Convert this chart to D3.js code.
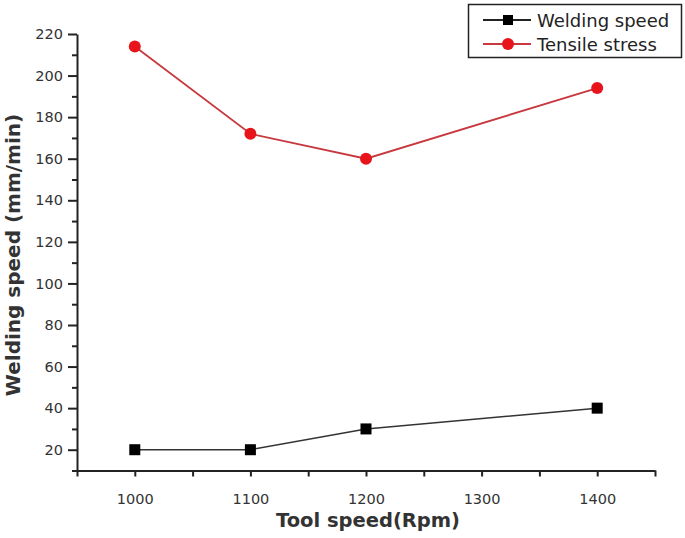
<!DOCTYPE html>
<html><head><meta charset="utf-8">
<script src="https://cdn.jsdelivr.net/npm/d3@7/dist/d3.min.js"></script>
<style>body{margin:0;background:#fff}svg{display:block}</style>
</head><body>
<svg id="c" width="685" height="538"></svg>
<script>
const toolSpeed = [1000, 1100, 1200, 1400];
const weldingSpeed = [20, 20, 30, 40];
const tensileStress = [214, 172, 160, 194];
const yTicks = [20, 40, 60, 80, 100, 120, 140, 160, 180, 200, 220];
const xTicks = [1000, 1100, 1200, 1300, 1400];
const seriesNames = ["Welding speed", "Tensile stress"];

const svg = d3.select("#c");
const x = d3.scaleLinear().domain([950, 1450]).range([77, 655]);
const y = d3.scaleLinear().domain([10, 220]).range([470.5, 34]);
const font = "'DejaVu Sans', Verdana, sans-serif";

const yMinor = d3.range(10, 221, 10).filter(v => v % 20 !== 0);
const xMinor = d3.range(950, 1451, 50).filter(v => v % 100 !== 0);

const gy = svg.append("g").attr("transform", "translate(77,0)");
gy.call(d3.axisLeft(y).tickValues(yTicks).tickSize(9).tickSizeOuter(0).tickPadding(5));
gy.append("g").call(d3.axisLeft(y).tickValues(yMinor).tickSize(5).tickFormat("")).select(".domain").remove();
const gx = svg.append("g").attr("transform", "translate(0,470.5)");
gx.call(d3.axisBottom(x).tickValues(xTicks).tickSize(6).tickSizeOuter(0).tickPadding(17).tickFormat(d3.format("d")));
gx.append("g").call(d3.axisBottom(x).tickValues(xMinor).tickSize(6).tickFormat("")).select(".domain").remove();
svg.selectAll(".domain, .tick line").attr("stroke", "#222").attr("stroke-width", 2);
svg.selectAll(".tick text").attr("font-family", font).attr("font-size", 14.5).attr("fill", "#333");

svg.append("text").attr("x", 368).attr("y", 527).attr("text-anchor", "middle")
  .attr("font-family", font).attr("font-size", 19.5).attr("font-weight", "bold").attr("fill", "#333")
  .text("Tool speed(Rpm)");
svg.append("text").attr("transform", "translate(20,255) rotate(-90)").attr("text-anchor", "middle")
  .attr("font-family", font).attr("font-size", 20).attr("font-weight", "bold").attr("fill", "#333")
  .text("Welding speed (mm/min)");

const line = d3.line().x(d => x(d[0])).y(d => y(d[1]));
const wData = toolSpeed.map((t, i) => [t, weldingSpeed[i]]);
const tData = toolSpeed.map((t, i) => [t, tensileStress[i]]);

svg.append("path").datum(wData).attr("d", line).attr("fill", "none").attr("stroke", "#333").attr("stroke-width", 1.5);
svg.append("path").datum(tData).attr("d", line).attr("fill", "none").attr("stroke", "#c8393f").attr("stroke-width", 1.8);

svg.selectAll(".sq").data(wData).join("rect")
  .attr("x", d => x(d[0]) - 5.5).attr("y", d => y(d[1]) - 5.5).attr("width", 11).attr("height", 11).attr("fill", "#000");
svg.selectAll(".ci").data(tData).join("circle")
  .attr("cx", d => x(d[0])).attr("cy", d => y(d[1])).attr("r", 6).attr("fill", "#e8141c");

const lg = svg.append("g");
lg.append("rect").attr("x", 468.5).attr("y", 4.5).attr("width", 213).attr("height", 53)
  .attr("fill", "#fff").attr("stroke", "#222").attr("stroke-width", 1.5);
[0, 1].forEach(i => {
  const yy = 20 + i * 24;
  lg.append("line").attr("x1", 483).attr("x2", 531).attr("y1", yy).attr("y2", yy)
    .attr("stroke", i ? "#c8393f" : "#222").attr("stroke-width", 1.8);
  if (i) lg.append("circle").attr("cx", 508).attr("cy", yy).attr("r", 6).attr("fill", "#e8141c");
  else lg.append("rect").attr("x", 503).attr("y", yy - 5).attr("width", 10).attr("height", 10).attr("fill", "#000");
  lg.append("text").attr("x", 537).attr("y", yy + 6.5).attr("font-family", font).attr("font-size", 18)
    .attr("fill", "#222").text(seriesNames[i]);
});
</script>
</body></html>
